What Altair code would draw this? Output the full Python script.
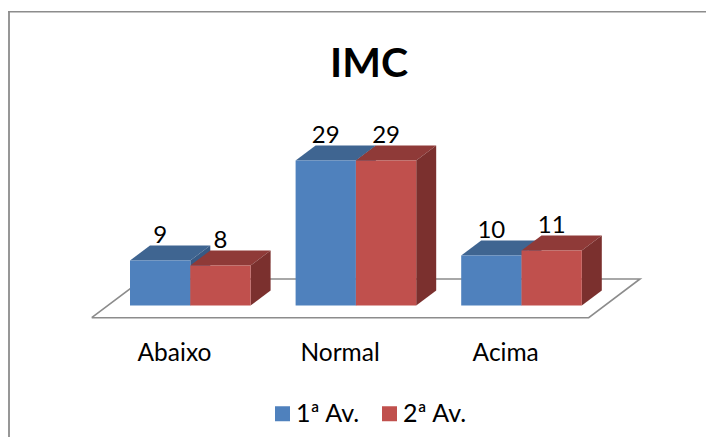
import altair as alt
import pandas as pd

categories = ["Abaixo", "Normal", "Acima"]
series_names = ["1ª Av.", "2ª Av."]
first = [9, 29, 10]
second = [8, 29, 11]
title_text = "IMC"

FONT = "Lato"
GRAY = "#8C8C8C"
W, H = 698, 429
PX_Y = 5.0            # pixels per unit
BASE = 297.5          # y pixel of value 0
START, STEP, BAR, DX = 122.0, 165.6, 60.3, 20.0
DY = 3.0              # depth in value units
FRONT_COL = dict(zip(series_names, ["#4F81BD", "#C0504D"]))
TOP_COL = dict(zip(series_names, ["#3F6591", "#8F3A38"]))
SIDE_COL = dict(zip(series_names, ["#375A85", "#7B302E"]))

xs = alt.Scale(domain=[0, W], range=[0, W], nice=False, zero=False)
ys = alt.Scale(domain=[BASE / PX_Y, (BASE - H) / PX_Y], range=[0, H], nice=False, zero=False)
X = alt.X("x:Q", scale=xs, axis=None)
Y = alt.Y("y:Q", scale=ys, axis=None)

fronts, faces, labels = [], [], []
for c, cat in enumerate(categories):
    for s, (name, vals) in enumerate(zip(series_names, [first, second])):
        v = vals[c]
        x0 = START + STEP * c + BAR * s
        x1 = x0 + BAR
        fronts.append({"x": x0, "x2": x1, "y": v, "y2": 0, "series": name})
        labels.append({"x": (x0 + x1) / 2, "y": v + DY + 0.6, "t": str(v)})
        pid = f"{c}-{s}"
        for x, a, b in [(x0, v, v), (x0 + DX, v + DY, v), (x1, v + DY, v), (x1 + DX, v + DY, v + DY)]:
            faces.append({"x": x, "y": a, "y2": b, "fill": TOP_COL[name], "pid": "t" + pid})
        for x, a, b in [(x1, v, 0), (x1 + DX, v + DY, DY)]:
            faces.append({"x": x, "y": a, "y2": b, "fill": SIDE_COL[name], "pid": "s" + pid})

floor_pts = [(83.7, -2.44), (580.7, -2.44), (632, 5.3), (135, 5.3), (83.7, -2.44)]
floor = pd.DataFrame([{"x": x, "y": y, "o": i} for i, (x, y) in enumerate(floor_pts)])

floor_layer = alt.Chart(floor).mark_line(color=GRAY, strokeWidth=1.6, strokeJoin="miter").encode(
    x=X, y=Y, order="o:Q")

face_layer = alt.Chart(pd.DataFrame(faces)).mark_area(opacity=1).encode(
    x=X, y=Y, y2="y2:Q", fill=alt.Fill("fill:N", scale=None), detail="pid:N")

front_layer = alt.Chart(pd.DataFrame(fronts)).mark_rect().encode(
    x=X, x2="x2:Q", y=Y, y2="y2:Q",
    color=alt.Color("series:N",
                    scale=alt.Scale(domain=series_names, range=[FRONT_COL[n] for n in series_names]),
                    legend=alt.Legend(title=None, orient="none", legendX=262, legendY=393,
                                      direction="horizontal", symbolType="square", symbolSize=225,
                                      symbolStrokeWidth=0, labelFont=FONT, labelFontSize=25,
                                      labelColor="#000000", labelOffset=1, columnPadding=17,
                                      padding=0, offset=0)))

value_layer = alt.Chart(pd.DataFrame(labels)).mark_text(
    font=FONT, fontSize=24, color="#000000", baseline="alphabetic", align="center"
).encode(x=X, y=Y, text="t:N")

cat_df = pd.DataFrame({"x": [START + STEP * i + 44.5 for i in range(3)],
                       "y": [(BASE - 353) / PX_Y] * 3, "t": categories})
cat_layer = alt.Chart(cat_df).mark_text(
    font=FONT, fontSize=24.5, color="#000000", baseline="alphabetic", align="center"
).encode(x=X, y=Y, text="t:N")

title_df = pd.DataFrame({"x": [361], "y": [(BASE - 69) / PX_Y], "t": [title_text]})
title_layer = alt.Chart(title_df).mark_text(
    font=FONT, fontSize=41, fontWeight="bold", color="#000000", baseline="alphabetic", align="center"
).encode(x=X, y=Y, text="t:N")

frame_left = alt.Chart(pd.DataFrame({"a": [0]})).mark_rule(color=GRAY, strokeWidth=1.8).encode(
    x=alt.value(1), y=alt.value(3), y2=alt.value(H))
frame_top = alt.Chart(pd.DataFrame({"a": [0]})).mark_rule(color=GRAY, strokeWidth=1.6).encode(
    x=alt.value(0), x2=alt.value(W), y=alt.value(3.8))

chart = alt.layer(frame_left, frame_top, floor_layer, face_layer, front_layer,
                  value_layer, cat_layer, title_layer).properties(
    width=W, height=H, padding=0, autosize=alt.AutoSizeParams(type="none"),
    background="#FFFFFF"
).configure_view(stroke=None)

chart.save("out.html", embed_options={"renderer": "svg", "actions": False})
